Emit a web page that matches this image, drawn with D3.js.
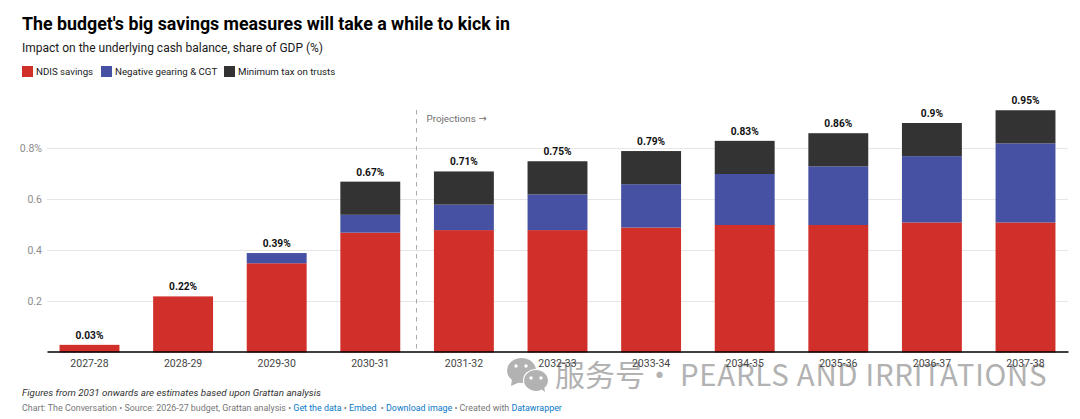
<!DOCTYPE html>
<html>
<head>
<meta charset="utf-8">
<script src="https://cdn.jsdelivr.net/npm/d3@7"></script>
<style>
  html, body { margin: 0; padding: 0; background: #fff; }
  svg { display: block; font-family: Roboto, sans-serif; }
</style>
</head>
<body>
<svg id="chart" width="1080" height="419"></svg>
<script>
// Budget measures, share of GDP (%)
const years = ["2027-28","2028-29","2029-30","2030-31","2031-32","2032-33","2033-34","2034-35","2035-36","2036-37","2037-38"];
const ndisSavings = [0.03,0.22,0.35,0.47,0.48,0.48,0.49,0.50,0.50,0.51,0.51];
const negativeGearing = [0,0,0.04,0.07,0.10,0.14,0.17,0.20,0.23,0.26,0.31];
const minimumTax = [0,0,0,0.13,0.13,0.13,0.13,0.13,0.13,0.13,0.13];
const totalLabels = ["0.03%","0.22%","0.39%","0.67%","0.71%","0.75%","0.79%","0.83%","0.86%","0.9%","0.95%"];
const yTicks = [0.2,0.4,0.6,0.8];
const seriesNames = ["NDIS savings","Negative gearing & CGT","Minimum tax on trusts"];
const seriesColors = ["#d12f2a","#4651a3","#333333"];

const svg = d3.select("#chart");

svg.append("text").attr("x",22).attr("y",30).attr("font-size",17.8).attr("font-weight",700).attr("fill","#000")
  .text("The budget's big savings measures will take a while to kick in");
svg.append("text").attr("x",22).attr("y",52).attr("font-size",12).attr("fill","#1a1a1a")
  .text("Impact on the underlying cash balance, share of GDP (%)");

// Legend
const legendX = [22,101,224];
seriesNames.forEach((name,i) => {
  const g = svg.append("g").attr("transform",`translate(${legendX[i]},66)`);
  g.append("rect").attr("width",11).attr("height",11).attr("fill",seriesColors[i]);
  g.append("text").attr("x",14).attr("y",9).attr("font-size",9.7).attr("fill","#1a1a1a").text(name);
});

const x = d3.scaleBand().domain(years).range([47,1068]).paddingInner(0.36).paddingOuter(0.134);
const y = d3.scaleLinear().domain([0,1]).range([352.5,97.5]);

// Gridlines and value axis labels
svg.append("g").selectAll("line").data(yTicks).join("line")
  .attr("x1",47).attr("x2",1068)
  .attr("y1",d=>y(d)).attr("y2",d=>y(d))
  .attr("stroke","#e6e6e6").attr("stroke-width",1);
svg.append("g").selectAll("text").data(yTicks).join("text")
  .attr("x",42).attr("y",d=>y(d)+3.5).attr("text-anchor","end")
  .attr("font-size",10.5).attr("fill","#8c8c8c")
  .text(d => d === 0.8 ? "0.8%" : d3.format(".1f")(d));

// Stacked bars
const rows = years.map((yr,i) => ({year:yr, a:ndisSavings[i], b:negativeGearing[i], c:minimumTax[i]}));
const stacked = d3.stack().keys(["a","b","c"])(rows);
svg.append("g").selectAll("g").data(stacked).join("g")
  .attr("fill",(d,i)=>seriesColors[i])
  .selectAll("rect").data(d=>d.filter(s=>s[1]>s[0])).join("rect")
  .attr("x",d=>x(d.data.year))
  .attr("width",x.bandwidth())
  .attr("y",d=>y(d[1]))
  .attr("height",d=>y(d[0])-y(d[1]));

// Total above each bar
svg.append("g").selectAll("text").data(rows).join("text")
  .attr("x",d=>x(d.year)+x.bandwidth()/2)
  .attr("y",d=>y(d.a+d.b+d.c)-6)
  .attr("text-anchor","middle").attr("font-size",10.2).attr("font-weight",700).attr("fill","#111")
  .text((d,i)=>totalLabels[i]);

// Publisher mark along the bottom right, behind the year labels
const mark = svg.append("g").attr("fill","#b2b2b2");
mark.append("ellipse").attr("cx",521.5).attr("cy",370.5).attr("rx",14.5).attr("ry",12.5);
mark.append("path").attr("d","M512 379l-1 7 9-4z");
mark.append("ellipse").attr("cx",536).attr("cy",380.5).attr("rx",12.5).attr("ry",11).attr("stroke","#fff").attr("stroke-width",1.2);
mark.append("path").attr("d","M541 389l4 3-1-6z");
const eyes = [[516,366],[526,366],[531,378],[541,378]];
mark.append("g").selectAll("circle").data(eyes).join("circle")
  .attr("cx",d=>d[0]).attr("cy",d=>d[1]).attr("r",1.7).attr("fill","#fff");
const markText = svg.append("text").attr("y",386).attr("fill","#b2b2b2")
  .attr("font-family","'Noto Sans CJK SC', sans-serif");
markText.append("tspan").attr("x",555).attr("font-size",30).text("服务号");
markText.append("tspan").attr("x",645).attr("font-size",29).text("·");
markText.append("tspan").attr("x",680).attr("font-size",29.4).attr("letter-spacing",0.72).text("PEARLS AND IRRITATIONS");

// Baseline and category axis
const xAxis = d3.axisBottom(x).tickSize(0).tickPadding(8.5);
const axisG = svg.append("g").attr("transform","translate(0,351.5)").call(xAxis);
axisG.select(".domain").attr("stroke","#000").attr("stroke-width",1.5);
axisG.selectAll("text").attr("font-family","Roboto, sans-serif").attr("font-size",10.5).attr("fill","#444");

// Projections marker
svg.append("line").attr("x1",416.5).attr("x2",416.5).attr("y1",110).attr("y2",351)
  .attr("stroke","#aaa").attr("stroke-width",1).attr("stroke-dasharray","4.5 4.5");
const proj = svg.append("text").attr("x",426.5).attr("y",122).attr("font-size",9.8).attr("fill","#707070");
proj.append("tspan").text("Projections ");
proj.append("tspan").attr("font-family","'DejaVu Sans', sans-serif").text("→");

// Notes and credits
svg.append("text").attr("x",22).attr("y",396).attr("font-size",9.8).attr("font-style","italic").attr("fill","#333")
  .text("Figures from 2031 onwards are estimates based upon Grattan analysis");
const credit = svg.append("text").attr("x",22).attr("y",411).attr("font-size",8.9).attr("fill","#777").style("white-space","pre");
const creditParts = [
  ["Chart: The Conversation • Source: 2026-27 budget, Grattan analysis • ",false],
  ["Get the data",true],[" • ",false],["Embed",true],["  • ",false],["Download image",true],
  [" • Created with ",false],["Datawrapper",true]
];
creditParts.forEach(([t,link]) => credit.append("tspan").attr("fill",link?"#0a78c8":"#777").text(t));
</script>
</body>
</html>
